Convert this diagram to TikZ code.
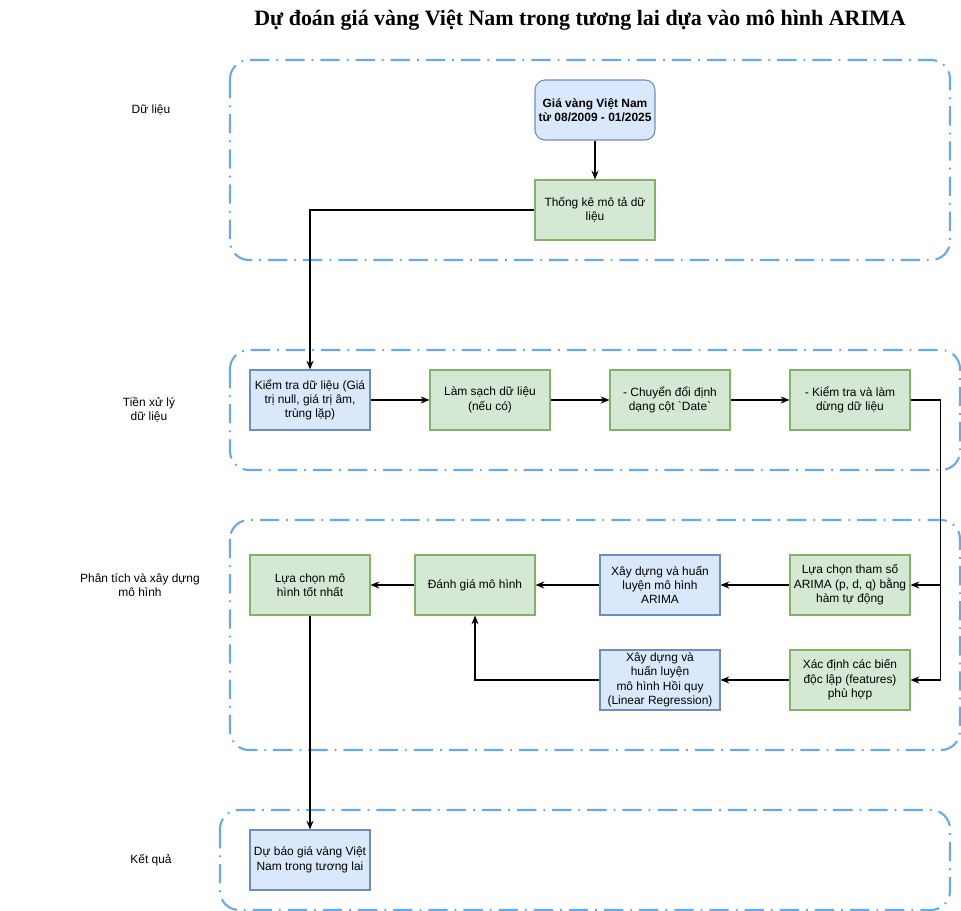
\documentclass[tikz,border=0pt]{standalone}
\usepackage{fontspec}
\setmainfont{Liberation Sans}
\newfontfamily\titlefont{Liberation Serif}
\usetikzlibrary{arrows.meta}
\definecolor{bluefill}{HTML}{DAE8FC}
\definecolor{bluedraw}{HTML}{6C8EBF}
\definecolor{greenfill}{HTML}{D5E8D4}
\definecolor{greendraw}{HTML}{82B366}
\definecolor{lanecol}{HTML}{66AAEE}
\tikzset{
  box/.style={draw,minimum width=2.4cm,minimum height=1.2cm,inner sep=0pt,align=center,font=\fontsize{6.8}{8.2}\selectfont},
  bluebox/.style={box,fill=bluefill,draw=bluedraw},
  greenbox/.style={box,fill=greenfill,draw=greendraw},
  lane/.style={draw=lanecol,line width=1.2pt,rounded corners=0.38cm,dash pattern=on 11pt off 4pt on 1pt off 4pt},
  lanelabel/.style={align=center,font=\fontsize{6.8}{8.2}\selectfont},
}
\begin{document}
\begin{tikzpicture}[x=0.02cm,y=-0.02cm,>={Stealth[length=5pt,width=4pt]},line width=0.6pt]
    \useasboundingbox (0,0) rectangle (961,911);
    % title
    \node (title) at (580,20) {\titlefont\bfseries\fontsize{12.5}{14}\selectfont D\d{ư} đoán giá vàng Việt Nam trong tương lai d\d{ư}a vào mô hình ARIMA};
    % lanes
    \draw[lane] (230,60) rectangle (950,260);
    \draw[lane] (230,350) rectangle (960,470);
    \draw[lane] (230,520) rectangle (960,750);
    \draw[lane] (220,810) rectangle (950,910);
    \node[lanelabel] (l1) at (151,110) {Dữ liệu};
    \node[lanelabel] (l2) at (149,410) {Tiền xử lý\\ dữ liệu};
    \node[lanelabel] (l3) at (140,585) {Phân tích và xây dựng\\mô hình};
    \node[lanelabel] (l4) at (151,860) {Kết quả};
    % data
    \node[bluebox,rounded corners=0.2cm,font=\fontsize{6.8}{8.2}\selectfont\bfseries] (gia) at (595,110) {Giá vàng Việt Nam\\từ 08/2009 - 01/2025};
    \node[greenbox] (thongke) at (595,210) {Thống kê mô tả dữ\\liệu};
    % preprocessing
    \node[bluebox] (kiemtra) at (310,400) {Kiểm tra dữ liệu (Giá\\trị null, giá trị âm,\\trùng lặp)};
    \node[greenbox] (lamsach) at (490,400) {Làm sạch dữ liệu\\(nếu có)};
    \node[greenbox] (chuyendoi) at (670,400) {- Chuyển đổi định\\dạng cột \textasciigrave Date\textasciigrave};
    \node[greenbox] (lamdung) at (850,400) {- Kiểm tra và làm\\dừng dữ liệu};
    % model
    \node[greenbox] (chonmh) at (310,585) {Lựa chọn mô\\hình tốt nhất};
    \node[greenbox] (danhgia) at (475,585) {Đánh giá mô hình};
    \node[bluebox] (arima) at (660,585) {Xây dựng và huấn\\luyện mô hình\\ARIMA};
    \node[greenbox] (thamso) at (850,585) {Lựa chọn tham số\\ARIMA (p, d, q) bằng\\hàm tự động};
    \node[bluebox] (hoiquy) at (660,680) {Xây dựng và\\huấn luyện\\mô hình Hồi quy\\(Linear Regression)};
    \node[greenbox] (xacdinh) at (850,680) {Xác định các biến\\độc lập (features)\\phù hợp};
    % result
    \node[bluebox] (dubao) at (310,860) {Dự báo giá vàng Việt\\Nam trong tương lai};
    % connectors
    \draw[->] (gia) -- (thongke);
    \draw[->] (thongke.west) -| (kiemtra.north);
    \draw[->] (kiemtra) -- (lamsach);
    \draw[->] (lamsach) -- (chuyendoi);
    \draw[->] (chuyendoi) -- (lamdung);
    \draw[->] (lamdung.east) -- ++(30,0) |- (thamso.east);
    \draw[->] (lamdung.east) -- ++(30,0) |- (xacdinh.east);
    \draw[->] (thamso) -- (arima);
    \draw[->] (arima) -- (danhgia);
    \draw[->] (danhgia) -- (chonmh);
    \draw[->] (xacdinh) -- (hoiquy);
    \draw[->] (hoiquy.west) -| (danhgia.south);
    \draw[->] (chonmh) -- (dubao);
\end{tikzpicture}
\end{document}
